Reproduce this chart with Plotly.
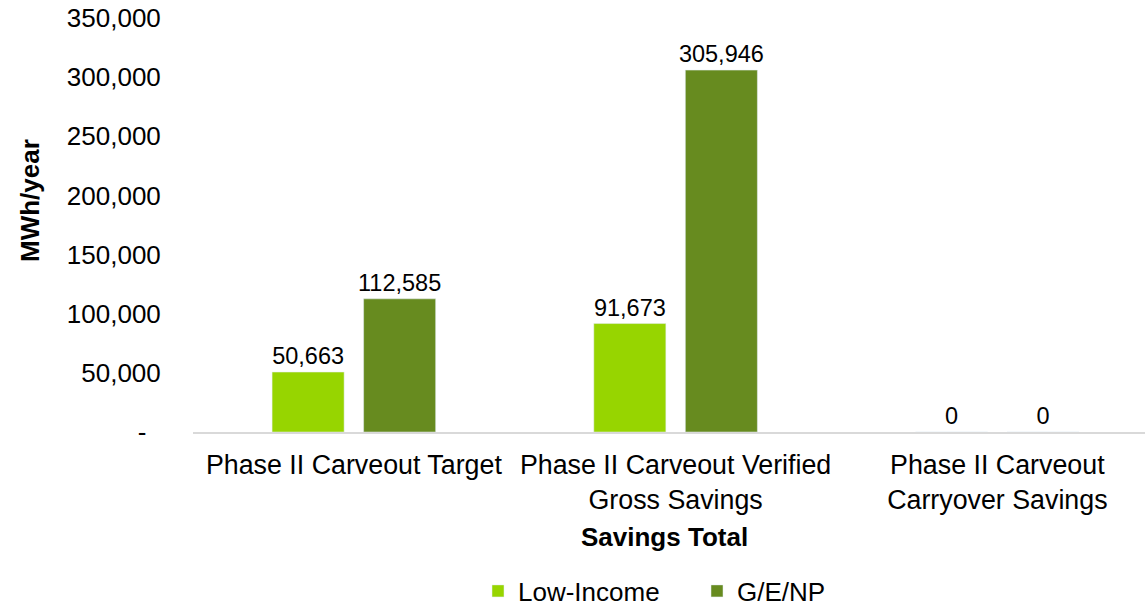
import plotly.graph_objects as go

categories = ["Phase II Carveout Target",
              "Phase II Carveout Verified<br>Gross Savings",
              "Phase II Carveout<br>Carryover Savings"]
low_income = [50663, 91673, 0]
ge_np = [112585, 305946, 0]
tick_vals = [0, 50000, 100000, 150000, 200000, 250000, 300000, 350000]
tick_text = ["-\u00a0\u00a0", "50,000", "100,000", "150,000", "200,000", "250,000", "300,000", "350,000"]

font = "Liberation Sans, Arial, sans-serif"

fig = go.Figure()
fig.add_trace(go.Bar(
    x=categories, y=low_income, name="Low-Income", marker_color="#97d500",
    text=[f"{v:,}" for v in low_income], textposition="outside", constraintext="none",
    textfont=dict(size=23.5, color="black"), cliponaxis=False
))
fig.add_trace(go.Bar(
    x=categories, y=ge_np, name="G/E/NP", marker_color="#678b1f",
    text=[f"{v:,}" for v in ge_np], textposition="outside", constraintext="none",
    textfont=dict(size=23.5, color="black"), cliponaxis=False
))

# axis titles placed as annotations to match the original positions
fig.add_annotation(text="<b>MWh/year</b>", textangle=-90, showarrow=False,
                   xref="paper", yref="paper", x=(30 - 193) / 952, y=(432 - 201) / 414,
                   xanchor="center", yanchor="middle", font=dict(size=26))
fig.add_annotation(text="<b>Savings Total</b>", showarrow=False,
                   xref="paper", yref="paper", x=(664 - 193) / 952, y=(432 - 537) / 414,
                   xanchor="center", yanchor="middle", font=dict(size=26))

fig.update_layout(
    width=1147, height=606,
    margin=dict(l=193, r=2, t=18, b=174, autoexpand=False),
    plot_bgcolor="white", paper_bgcolor="white",
    font=dict(family=font, size=26, color="black"),
    barmode="group", bargap=0.431, bargroupgap=0.213,
    showlegend=True,
    legend=dict(orientation="h", x=(478 - 193) / 952, xanchor="left",
                y=(432 - 591) / 414, yanchor="middle",
                font=dict(size=26), itemwidth=30, entrywidth=174),
    # the last category runs a little past the right edge, as in the original
    xaxis=dict(range=[-0.5, 2.459], showline=True, linecolor="#d9d9d9", linewidth=2,
               ticks="outside", ticklen=8, tickcolor="rgba(0,0,0,0)", tickangle=0,
               automargin=False, tickfont=dict(size=26.8)),
    yaxis=dict(range=[0, 350000], tickvals=tick_vals, ticktext=tick_text,
               showgrid=False, zeroline=False, showline=False, ticks="outside",
               ticklen=26, tickcolor="rgba(0,0,0,0)", automargin=False,
               tickfont=dict(size=26)),
)

# drop the default 8px page margin so the figure fills the window exactly
fig.write_html("out.html", config={"displayModeBar": False},
               post_script="document.body.style.margin='0';")
